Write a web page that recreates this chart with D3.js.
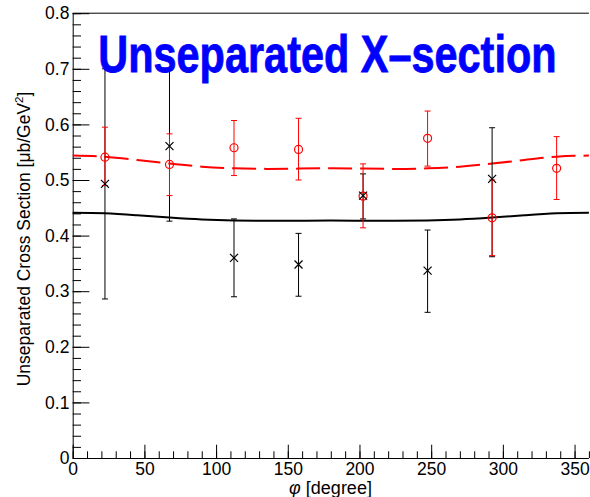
<!DOCTYPE html>
<html><head><meta charset="utf-8">
<script src="https://cdn.jsdelivr.net/npm/d3@7"></script>
<style>html,body{margin:0;padding:0;background:#fff;}svg{display:block;}</style>
</head><body>
<script>
// ---- data ----
const title = "Unseparated X\u2013section";
const xLabel = "[degree]";
const yLabel = "Unseparated Cross Section [\u03bcb/GeV";
const xTicks = [0, 50, 100, 150, 200, 250, 300, 350];
const yTicks = [0, 0.1, 0.2, 0.3, 0.4, 0.5, 0.6, 0.7, 0.8];
const yTickLabels = ["0", "0.1", "0.2", "0.3", "0.4", "0.5", "0.6", "0.7", "0.8"];

const blackPhi = [22.5, 67.5, 112.5, 157.5, 202.5, 247.5, 292.5];
const blackVal = [0.493, 0.561, 0.360, 0.348, 0.472, 0.337, 0.502];
const blackLo  = [0.286, 0.426, 0.290, 0.291, 0.430, 0.262, 0.362];
const blackHi  = [0.700, 0.697, 0.430, 0.404, 0.511, 0.410, 0.594];

const redPhi = [22.5, 67.5, 112.5, 157.5, 202.5, 247.5, 292.5, 337.5];
const redVal = [0.541, 0.528, 0.558, 0.555, 0.471, 0.575, 0.432, 0.521];
const redLo  = [0.490, 0.472, 0.508, 0.500, 0.414, 0.525, 0.364, 0.465];
const redHi  = [0.595, 0.583, 0.607, 0.611, 0.529, 0.624, 0.500, 0.578];

const curvePhi = [0, 22.5, 45, 67.5, 90, 112.5, 135, 157.5, 180, 202.5, 225, 247.5, 270, 292.5, 315, 337.5, 360];
const blackCurve = [0.441, 0.440, 0.4365, 0.4325, 0.429, 0.4272, 0.4267, 0.4268, 0.427, 0.4268, 0.4267, 0.4272, 0.429, 0.4325, 0.4365, 0.440, 0.441];
const redCurve   = [0.544, 0.542, 0.536, 0.5295, 0.524, 0.521, 0.520, 0.5205, 0.521, 0.5205, 0.520, 0.521, 0.524, 0.5295, 0.536, 0.542, 0.544];

// ---- drawing ----
const W = 590, H = 497;
const svg = d3.select("body").append("svg").attr("width", W).attr("height", H)
  .style("font-family", "'Liberation Sans', Arial, Helvetica, sans-serif");

const x = d3.scaleLinear().domain([0, 360]).range([72.7, 588.9]);
const y = d3.scaleLinear().domain([0, 0.8]).range([458, 13.2]);

// axes
const yMinor = d3.range(0, 0.8001, 0.02);
const xMinor = d3.range(0, 361, 10);

svg.append("g").attr("transform", `translate(${x(0)},0)`)
  .call(d3.axisLeft(y).tickValues(yMinor).tickSize(-8.3).tickFormat(""))
  .call(g => g.select(".domain").remove());
svg.append("g").attr("transform", `translate(0,${y(0)})`)
  .call(d3.axisBottom(x).tickValues(xMinor).tickSize(-6.7).tickFormat(""))
  .call(g => g.select(".domain").remove());

const yAx = svg.append("g").attr("transform", `translate(${x(0)},0)`)
  .call(d3.axisLeft(y).tickValues(yTicks).tickSize(-16.7).tickPadding(3.3)
        .tickFormat((d, i) => yTickLabels[i]));
yAx.selectAll("text").attr("font-size", 17.5).attr("fill", "#000").style("font-family", "inherit");
yAx.select(".domain").attr("d", `M0.5,${y(0)}V${y(0.8)}`);

const xAx = svg.append("g").attr("transform", `translate(0,${y(0)})`)
  .call(d3.axisBottom(x).tickValues(xTicks).tickSize(-13.3).tickPadding(4.5));
xAx.selectAll("text").attr("font-size", 17.5).attr("fill", "#000").style("font-family", "inherit");
xAx.select(".domain").attr("d", `M${x(0)},0.5H${x(360)}`);

// top frame line
svg.append("line").attr("x1", x(0)).attr("x2", x(360)).attr("y1", y(0.8)).attr("y2", y(0.8))
  .attr("stroke", "#000").attr("stroke-width", 1);

// curves
const line = d3.line().x(d => x(d[0])).y(d => y(d[1])).curve(d3.curveNatural);
svg.append("path").datum(curvePhi.map((p, i) => [p, blackCurve[i]]))
  .attr("d", line).attr("fill", "none").attr("stroke", "#000").attr("stroke-width", 2);
svg.append("path").datum(curvePhi.map((p, i) => [p, redCurve[i]]))
  .attr("d", line).attr("fill", "none").attr("stroke", "#ff0000").attr("stroke-width", 2)
  .attr("stroke-dasharray", "24,8");

// error bars
function errBars(phis, lo, hi, color) {
  const g = svg.append("g").attr("stroke", color).attr("stroke-width", 1).attr("fill", "none");
  phis.forEach((p, i) => {
    const cx = x(p);
    g.append("line").attr("x1", cx).attr("x2", cx).attr("y1", y(lo[i])).attr("y2", y(hi[i]));
    g.append("line").attr("x1", cx - 3).attr("x2", cx + 3).attr("y1", y(lo[i])).attr("y2", y(lo[i]));
    g.append("line").attr("x1", cx - 3).attr("x2", cx + 3).attr("y1", y(hi[i])).attr("y2", y(hi[i]));
  });
}
errBars(blackPhi, blackLo, blackHi, "#000");
errBars(redPhi, redLo, redHi, "#ff0000");

// markers
svg.append("g").selectAll("circle").data(redPhi).join("circle")
  .attr("cx", d => x(d)).attr("cy", (d, i) => y(redVal[i])).attr("r", 4)
  .attr("fill", "none").attr("stroke", "#ff0000").attr("stroke-width", 1.2);
const s = 4;
svg.append("g").selectAll("path").data(blackPhi).join("path")
  .attr("d", (d, i) => {
    const cx = x(d), cy = y(blackVal[i]);
    return `M${cx - s},${cy - s}L${cx + s},${cy + s}M${cx - s},${cy + s}L${cx + s},${cy - s}`;
  })
  .attr("stroke", "#000").attr("stroke-width", 1.2).attr("fill", "none");

// axis titles
const xt = svg.append("text").attr("x", 330.5).attr("y", 494).attr("text-anchor", "middle")
  .attr("font-size", 18);
xt.append("tspan").attr("font-style", "italic").text("\u03c6");
xt.append("tspan").text(" " + xLabel);

const yt = svg.append("text").attr("transform", "translate(30,239) rotate(-90)")
  .attr("text-anchor", "middle").attr("font-size", 17.5);
yt.append("tspan").text(yLabel);
yt.append("tspan").attr("font-size", 11.5).attr("dy", -7).text("2");
yt.append("tspan").attr("dy", 7).text("]");

// title (horizontally condensed to the reference width)
const tg = svg.append("g");
const tt = tg.append("text").attr("x", 0).attr("y", 0).attr("font-size", 51).attr("font-weight", "bold")
  .attr("fill", "#0000ff").attr("stroke", "#0000ff").attr("stroke-width", 0.8)
  .text(title);
const natural = tt.node().getComputedTextLength();
tg.attr("transform", `translate(98.3,72) scale(${458.4 / natural},1)`);
</script>
</body></html>
